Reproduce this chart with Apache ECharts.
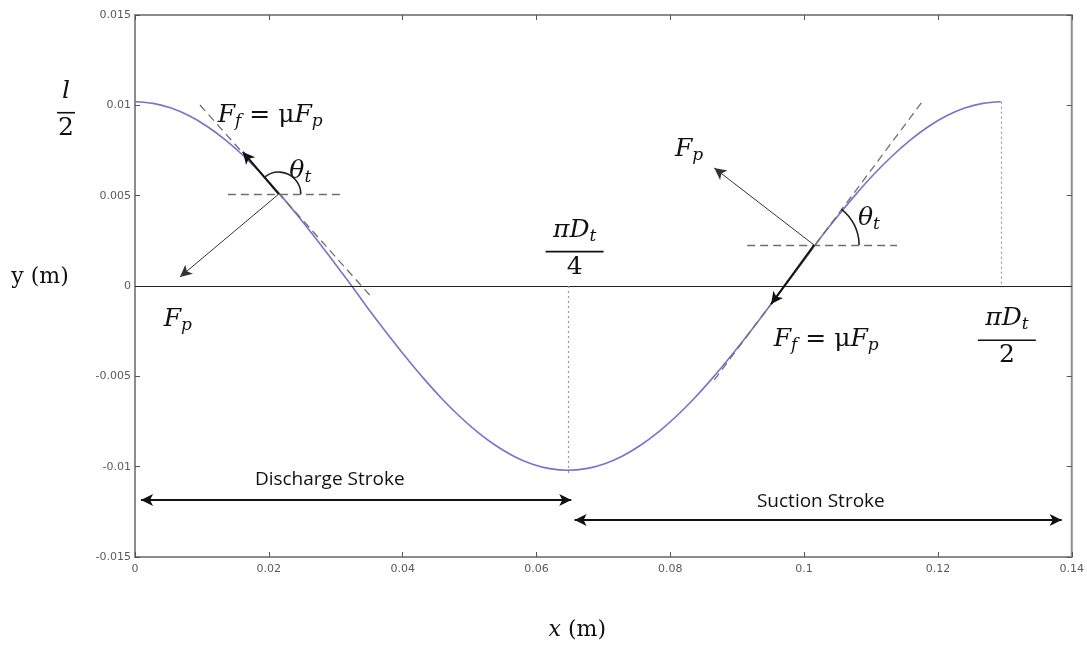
<!DOCTYPE html>
<html><head><meta charset="utf-8">
<script src="https://cdn.jsdelivr.net/npm/echarts@6/dist/echarts.min.js"></script>
<style>html,body{margin:0;padding:0;background:#fff}#c{width:1087px;height:647px}</style>
</head><body><div id="c"></div>
<script>
// ---- data ----
const curveX = [0,0.0027,0.0054,0.0081,0.0108,0.0135,0.0162,0.0189,0.0216,0.0243,0.0270,0.0297,0.0324,0.0350,0.0377,0.0404,0.0431,0.0458,0.0485,0.0512,0.0539,0.0566,0.0593,0.0620,0.0647,0.0674,0.0701,0.0728,0.0755,0.0782,0.0809,0.0836,0.0863,0.0890,0.0917,0.0944,0.0971,0.0998,0.1024,0.1051,0.1078,0.1105,0.1132,0.1159,0.1186,0.1213,0.1240,0.1267,0.1294];
const curveY = [0.01020,0.01011,0.00985,0.00942,0.00883,0.00809,0.00721,0.00621,0.00510,0.00390,0.00264,0.00133,0,-0.00133,-0.00264,-0.00390,-0.00510,-0.00621,-0.00721,-0.00809,-0.00883,-0.00942,-0.00985,-0.01011,-0.01020,-0.01011,-0.00985,-0.00942,-0.00883,-0.00809,-0.00721,-0.00621,-0.00510,-0.00390,-0.00264,-0.00133,0,0.00133,0.00264,0.00390,0.00510,0.00621,0.00721,0.00809,0.00883,0.00942,0.00985,0.01011,0.01020];
const xTickLabels = ['0','0.02','0.04','0.06','0.08','0.1','0.12','0.14'];
const yTickLabels = ['-0.015','-0.01','-0.005','0','0.005','0.01','0.015'];

// contact points and annotation geometry (data units)
const tangentPoints = [[0.02149,0.00509],[0.10149,0.00227]];
const tangentDashes = [[[0.0097,0.01002],[0.03507,-0.0005]],[[0.08657,-0.0052],[0.11761,0.01018]]];
const horizDashes = [[[0.01388,0.00509],[0.03134,0.00509]],[[0.09149,0.00227],[0.11388,0.00227]]];
const frictionTips = [[0.01612,0.00742],[0.09507,-0.00100]];
const pressureTips = [[0.00672,0.0005],[0.08657,0.00653]];
const dottedGuides = [[[0.0648,0],[0.0648,-0.01046]],[[0.1294,0.0102],[0.1294,0]]];
const strokeArrows = [[[0.0009,-0.01184],[0.0652,-0.01184]],[[0.0657,-0.01295],[0.1385,-0.01295]]];
const strokeNames = ['Discharge Stroke','Suction Stroke'];
const strokeNameAt = [[0.0291,-0.01074],[0.1025,-0.01196]];
const mathLabels = ['{i|F}{s|f}{r| = μ}{i|F}{s|p}','{i|θ}{s|t}','{i|F}{s|p}','{i|F}{s|p}','{i|θ}{s|t}','{i|F}{s|f}{r| = μ}{i|F}{s|p}'];
const mathLabelAt = [[0.0202,0.0093],[0.0247,0.0062],[0.0064,-0.0020],[0.0828,0.0074],[0.1097,0.0036],[0.1033,-0.0031]];
const fracNum = ['{i|πD}{s|t}','{i|πD}{s|t}'];
const fracDen = ['{r|4}','{r|2}'];
const fracAt = [[0.0657,0.0019],[0.1303,-0.0030]];
const halfAmplitude = 0.0102;

// ---- chart ----
const chart = echarts.init(document.getElementById('c'), null, {renderer:'canvas'});
const ink = '#111';
const mathFont = '"DejaVu Serif", serif';
function richMath(fs){
  const lh = fs + 5, pad = Math.round(fs*0.4);
  return {
    i:{fontFamily:mathFont,fontStyle:'italic',fontSize:fs,lineHeight:lh,verticalAlign:'top',fill:ink,color:ink},
    r:{fontFamily:mathFont,fontSize:fs,lineHeight:lh,verticalAlign:'top',fill:ink,color:ink},
    s:{fontFamily:mathFont,fontStyle:'italic',fontSize:Math.round(fs*0.68),lineHeight:lh,padding:[pad,0,0,0],verticalAlign:'top',fill:ink,color:ink}
  };
}
const tickLabel = {color:'#5a5a5a', fontFamily:'"DejaVu Sans", sans-serif', fontSize:11};
function seg(p, q, style, s1, s2, size){
  return [{coord:p, symbol:s1||'none', symbolSize:size||10, lineStyle:style},{coord:q, symbol:s2||'none', symbolSize:size||10}];
}
const dashStyle = {color:'#6f6f6f', width:1.3, type:[8,5]};
const markLines = [];
tangentDashes.forEach(d=>markLines.push(seg(d[0],d[1],dashStyle)));
horizDashes.forEach(d=>markLines.push(seg(d[0],d[1],dashStyle)));
dottedGuides.forEach(d=>markLines.push(seg(d[0],d[1],{color:'#9a9a9a',width:1.2,type:[2,3]})));
tangentPoints.forEach((p,i)=>markLines.push(seg(p,frictionTips[i],{color:'#111',width:2,type:'solid'},'none','arrow',[9,12])));
tangentPoints.forEach((p,i)=>markLines.push(seg(p,pressureTips[i],{color:'#333',width:1,type:'solid'},'none','arrow',[9,12])));
strokeArrows.forEach(d=>markLines.push(seg(d[0],d[1],{color:'#111',width:2,type:'solid'},'arrow','arrow',[9,12])));

const arcRadius = [22, 45];
const arcToward = [tangentDashes[0][0], tangentDashes[1][1]];
const tickStyle = {show:true, inside:true, length:5, lineStyle:{color:'#555'}};
const hiddenLine = {show:false, onZero:false};

const option = {
  animation:false,
  backgroundColor:'#fff',
  grid:{left:135, right:14, top:15, bottom:90, show:true, borderColor:'#8c8c8c', borderWidth:2, backgroundColor:'transparent'},
  xAxis:[
    {type:'value', min:0, max:0.14, interval:0.02, position:'bottom',
     axisLine:hiddenLine, splitLine:{show:false}, axisTick:tickStyle,
     axisLabel:{...tickLabel, margin:7, formatter:(v)=>xTickLabels[Math.round(v/0.02)]}},
    {type:'value', min:0, max:0.14, interval:0.02, position:'top',
     axisLine:hiddenLine, splitLine:{show:false}, axisTick:tickStyle, axisLabel:{show:false}}
  ],
  yAxis:[
    {type:'value', min:-0.015, max:0.015, interval:0.005, position:'left',
     axisLine:hiddenLine, splitLine:{show:false}, axisTick:tickStyle,
     axisLabel:{...tickLabel, margin:4, formatter:(v)=>yTickLabels[Math.round((v+0.015)/0.005)]}},
    {type:'value', min:-0.015, max:0.015, interval:0.005, position:'right',
     axisLine:hiddenLine, splitLine:{show:false}, axisTick:tickStyle, axisLabel:{show:false}}
  ],
  series:[
    {type:'line', name:'zero', data:[], markLine:{silent:true, symbol:'none', label:{show:false},
      lineStyle:{color:'#222', width:1.2, type:'solid'}, data:[{yAxis:0}]}},
    {type:'line', name:'curve', data:curveX.map((x,i)=>[x,curveY[i]]), showSymbol:false, smooth:0.3,
     lineStyle:{color:'#7674cc', width:1.6}, z:3},
    {type:'line', name:'annot', data:[], z:4,
     markLine:{silent:true, label:{show:false}, emphasis:{disabled:true}, data:markLines}},
    {type:'custom', name:'angles', data:tangentPoints, z:5,
     renderItem:(params, api)=>{
       const c = api.coord([api.value(0), api.value(1)]);
       const t = api.coord(arcToward[params.dataIndex]);
       const ang = Math.atan2(t[1]-c[1], t[0]-c[0]);
       return {type:'arc', shape:{cx:c[0], cy:c[1], r:arcRadius[params.dataIndex], startAngle:ang, endAngle:0, clockwise:true},
               style:{stroke:'#222', fill:null, lineWidth:1.6}};
     }}
  ]
};
chart.setOption(option);

function px(p){ return chart.convertToPixel({xAxisIndex:0, yAxisIndex:0}, p); }
const g = [];
const FS = 25;
mathLabels.forEach((t,i)=>{
  const p = px(mathLabelAt[i]);
  g.push({type:'text', x:p[0], y:p[1], silent:true, style:{text:t, rich:richMath(FS), align:'center', verticalAlign:'middle'}});
});
function fraction(num, den, cx, cy, half){
  g.push({type:'text', x:cx, y:cy-4, silent:true, style:{text:num, rich:richMath(FS), align:'center', verticalAlign:'bottom'}});
  g.push({type:'line', silent:true, shape:{x1:cx-half, y1:cy, x2:cx+half, y2:cy}, style:{stroke:ink, lineWidth:1.6}});
  g.push({type:'text', x:cx, y:cy+3, silent:true, style:{text:den, rich:richMath(FS), align:'center', verticalAlign:'top'}});
}
fracAt.forEach((a,i)=>{ const p = px(a); fraction(fracNum[i], fracDen[i], p[0], p[1], 29); });
// l/2 beside the axis, at the half amplitude level
const yHalf = px([0, halfAmplitude])[1];
fraction('{i|l}', '{r|2}', 66, yHalf + 11, 9);
strokeNames.forEach((t,i)=>{
  const p = px(strokeNameAt[i]);
  g.push({type:'text', x:p[0], y:p[1], silent:true, style:{text:t, font:'19px "Open Sans", sans-serif', fill:'#111', align:'center', verticalAlign:'middle'}});
});
// axis titles
const y0 = px([0,0])[1];
g.push({type:'text', x:40, y:y0-6, silent:true, style:{text:'{r|y (m)}', rich:richMath(22), align:'center', verticalAlign:'middle'}});
g.push({type:'text', x:px([0.0661,0])[0], y:633, silent:true, style:{text:'{i|x}{r| (m)}', rich:richMath(22), align:'center', verticalAlign:'middle'}});
chart.setOption({graphic:g});
</script>
</body></html>
